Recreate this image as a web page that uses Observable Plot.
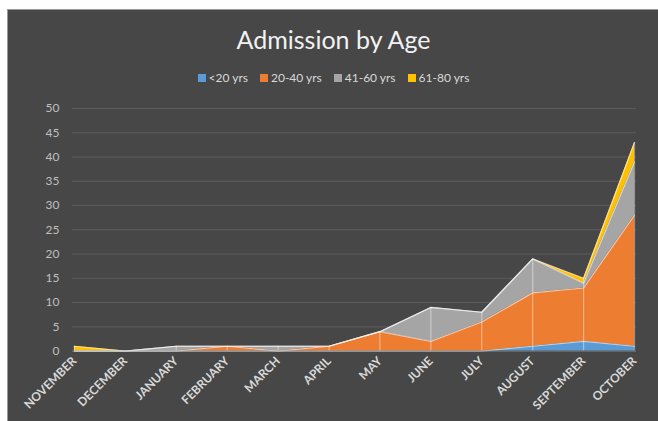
<!DOCTYPE html>
<html>
<head>
<meta charset="utf-8">
<script src="https://cdn.jsdelivr.net/npm/d3@7"></script>
<script src="https://cdn.jsdelivr.net/npm/@observablehq/plot@0.6"></script>
<style>
  html, body { margin: 0; padding: 0; background: #ffffff; }
  #chart {
    position: absolute; left: 7px; top: 9px; width: 651px; height: 412px;
    background: #474747; border-top: 1px solid #9a9a9a; border-left: 1px solid #9a9a9a;
    box-sizing: border-box; overflow: hidden;
    font-family: Lato, "Open Sans", sans-serif;
  }
  #title {
    position: absolute; left: 0; width: 651px; top: 14px; text-align: center;
    color: #f2f2f2; font-size: 25px; line-height: 30px;
  }
  #legend {
    position: absolute; left: 0; width: 651px; top: 60px; text-align: center;
    color: #d9d9d9; font-size: 12px; line-height: 16px;
  }
  #legend span.item { margin: 0 6px; white-space: nowrap; }
  #legend span.sw { display: inline-block; width: 8px; height: 8px; margin-right: 3px; vertical-align: 0px; }
  #plot { position: absolute; left: -1px; top: 85px; }
</style>
</head>
<body>
<div id="chart">
  <div id="title">Admission by Age</div>
  <div id="legend"></div>
  <div id="plot"></div>
</div>
<script>
const months = ["NOVEMBER","DECEMBER","JANUARY","FEBRUARY","MARCH","APRIL","MAY","JUNE","JULY","AUGUST","SEPTEMBER","OCTOBER"];
const seriesNames = ["<20 yrs","20-40 yrs","41-60 yrs","61-80 yrs"];
const under20 = [0,0,0,0,0,0,0,0,0,1,2,1];
const age20to40 = [0,0,0,1,0,1,4,2,6,11,11,27];
const age41to60 = [0,0,1,0,1,0,0,7,2,7,1,11];
const age61to80 = [1,0,0,0,0,0,0,0,0,0,1,4];
const seriesColors = ["#5b9bd5","#ed7d31","#a5a5a5","#ffc000"];
const yTicks = [0,5,10,15,20,25,30,35,40,45,50];

const seriesValues = [under20, age20to40, age41to60, age61to80];
const data = [];
seriesNames.forEach((s, si) => months.forEach((m, mi) => data.push({month: m, series: s, value: seriesValues[si][mi]})));
const totals = months.map((m, i) => ({month: m, total: seriesValues.reduce((a, v) => a + v[i], 0)}));

// legend
const legend = document.getElementById("legend");
seriesNames.forEach((s, i) => {
  const item = document.createElement("span");
  item.className = "item";
  item.innerHTML = `<span class="sw" style="background:${seriesColors[i]}"></span>`;
  item.appendChild(document.createTextNode(s));
  legend.appendChild(item);
});

const chart = Plot.plot({
  width: 652,
  height: 327,
  marginLeft: 65,
  marginRight: 22,
  marginTop: 13,
  marginBottom: 71,
  style: {background: "transparent", fontFamily: "Lato, 'Open Sans', sans-serif"},
  x: {type: "point", domain: months, padding: 0, label: null},
  y: {domain: [0, 50], ticks: yTicks, label: null},
  color: {domain: seriesNames, range: seriesColors},
  marks: [
    Plot.gridY(yTicks, {stroke: "#5c5c5c", strokeOpacity: 1, strokeWidth: 1}),
    Plot.areaY(data, {x: "month", y: "value", fill: "series", order: seriesNames, curve: "linear"}),
    Plot.lineY(data, Plot.stackY2({x: "month", y: "value", z: "series", order: seriesNames, stroke: "#ffffff", strokeOpacity: 0.55, strokeWidth: 1.2})),
    Plot.ruleX(totals, {x: "month", y1: 0, y2: "total", stroke: "#ffffff", strokeOpacity: 0.4, strokeWidth: 1.2}),
    Plot.ruleY([0], {stroke: "#8a8a8a", strokeOpacity: 0.6}),
    Plot.axisY(yTicks, {tickSize: 0, tickPadding: 13, fill: "#bfbfbf", fontSize: 12, stroke: null}),
    Plot.axisX(months, {tickSize: 0, tickPadding: 8, tickRotate: -45, fill: "#d9d9d9", fontSize: 12, fontWeight: "bold"})
  ]
});
document.getElementById("plot").appendChild(chart);
</script>
</body>
</html>
